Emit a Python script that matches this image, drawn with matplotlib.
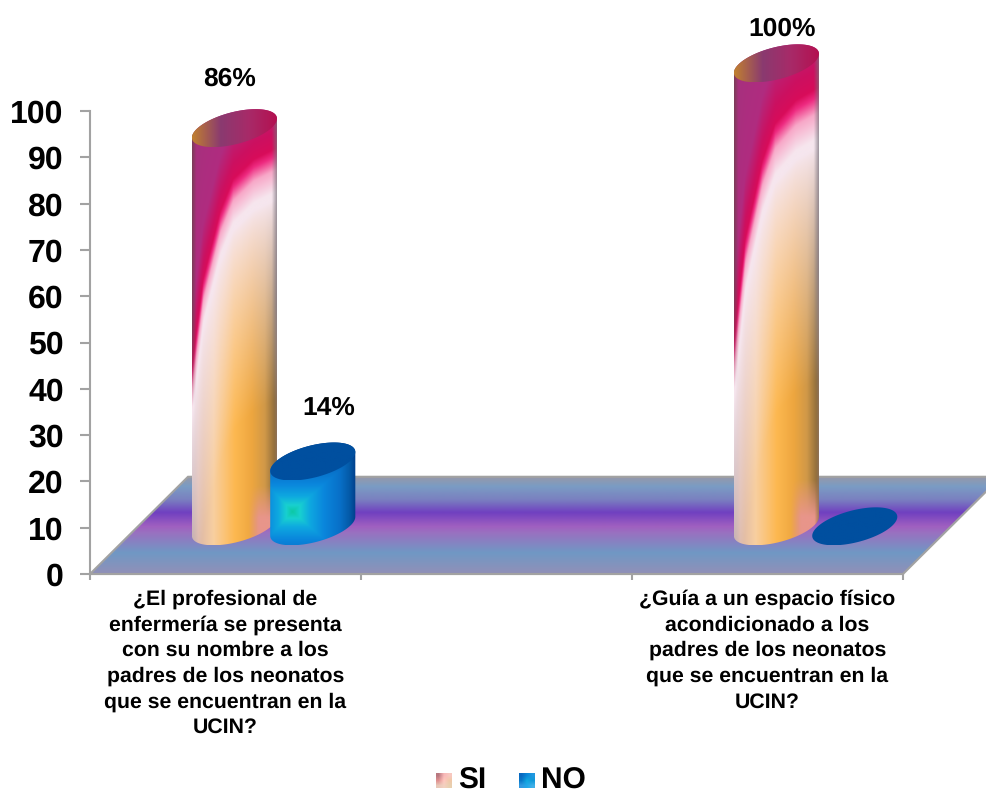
import numpy as np
import matplotlib
matplotlib.use("Agg")
import matplotlib.pyplot as plt
from matplotlib.colors import to_rgb
from matplotlib.patches import Polygon, PathPatch
from matplotlib.path import Path

plt.rcParams['font.family'] = ['Liberation Sans', 'DejaVu Sans']
plt.rcParams['font.weight'] = 'bold'
plt.rcParams['text.hinting'] = 'none'

questions = [
    "¿El profesional de\nenfermería se presenta\ncon su nombre a los\npadres de los neonatos\nque se encuentran en la\nUCIN?",
    "¿Guía a un espacio físico\nacondicionado a los\npadres de los neonatos\nque se encuentran en la\nUCIN?",
]
questionPos = [0, 2]
siValues = [86, 100]
noValues = [14, 0]
yTicks = list(range(0, 101, 10))

# Size of the 3D look, in axis units
FLOOR_DEPTH_X = 0.3616
FLOOR_DEPTH_Y = 21.0
BAR_RISE = 10.3
BAR_HW = 0.157
BAR_EH = 4.1
TILT = np.radians(30)
SI_SHIFT = 0.033
NO_SHIFT = 0.322
GREY = '#a2a2a2'


def ramp(x, stops, colors):
    # Piecewise colour gradient, returns an array shaped like x with 3 channels
    rgb = np.array([to_rgb(c) for c in colors])
    return np.stack([np.interp(x, stops, rgb[:, i]) for i in range(3)], axis=-1)


def mix(a, b, t):
    return a + (b - a) * t[..., None]


def ellipse(cx, cy, t):
    return np.column_stack([cx + BAR_HW * np.cos(t), cy + BAR_EH * np.sin(t + TILT)])


def bodyPath(cx, top):
    lower = ellipse(cx, BAR_RISE, np.linspace(np.pi, 2 * np.pi, 60))
    upper = ellipse(cx, top, np.linspace(0, np.pi, 60))
    return Path(np.vstack([lower, upper, lower[:1]]), closed=True)


def siColors(u, v):
    # Crimson sweep from the top that fades through white into orange
    edge = np.interp(u, [0, 0.13, 0.33, 0.48, 0.72, 1], [0.6, 0.38, 0.21, 0.13, 0.08, 0.05])
    d = v - edge
    upper = ramp(np.clip(-d, 0, 1), [0, 0.04, 0.14, 0.4],
                 ['#d80c5a', '#cc1060', '#b02c80', '#a8307e'])
    glow = ramp(d, [0, 0.02, 0.055, 0.11], ['#d80c5a', '#ee2a80', '#f8a8c8', '#f6e6ee'])
    lower = ramp(u, [0, 0.07, 0.25, 0.5, 0.7, 0.85, 0.96, 1],
                 ['#b09a98', '#dcb8a8', '#f8cfa0', '#fdb850', '#eda63f', '#d09848', '#94703c', '#8a7060'])
    blush = np.clip((v - 0.9) / 0.08, 0, 1) * np.clip((u - 0.66) / 0.12, 0, 1) * np.clip((1.0 - u) / 0.06, 0, 1)
    lower = mix(lower, ramp(u, [0, 1], ['#e8958a', '#e8958a']), blush)
    body = mix(glow, lower, np.clip((d - 0.13) / 0.5, 0, 1) ** 0.8)
    rgb = np.where((d < 0)[..., None], upper, body)
    rim = np.clip((u - 0.93) / 0.07, 0, 1) * np.clip((0.75 - v) / 0.3, 0, 1)
    rgb = mix(rgb, ramp(u, [0, 1], ['#77707a', '#77707a']), rim * 0.8)
    left = np.clip((0.05 - u) / 0.05, 0, 1) * np.clip((0.7 - v) / 0.2, 0, 1)
    return mix(rgb, ramp(u, [0, 1], ['#70404e', '#70404e']), left * 0.8)


def noColors(u, v):
    # Square glow around a teal spot low on the left of the barrel
    dx = u - 0.26
    dy = v - 0.78
    dist = np.maximum(np.where(dx < 0, -dx / 0.6, dx / 0.74), np.abs(dy) / 0.85)
    return ramp(dist, [0, 0.12, 0.28, 0.5, 0.75, 0.9, 1],
                ['#0cc8a4', '#18d0d0', '#0ea8e0', '#0a86dc', '#0870c8', '#045aa8', '#003f8c'])


def drawBar(ax, cx, value, colorFunc, capColors):
    top = BAR_RISE + value
    x0, x1 = cx - BAR_HW, cx + BAR_HW
    if value > 0:
        y0, y1 = BAR_RISE - BAR_EH, top + BAR_EH
        u, yy = np.meshgrid(np.linspace(0, 1, 170), np.linspace(y0, y1, 900))
        v = (top - yy) / value
        img = ax.imshow(colorFunc(u, v), extent=[x0, x1, y0, y1], origin='lower',
                        aspect='auto', interpolation='bilinear', zorder=3)
        clip = PathPatch(bodyPath(cx, top), transform=ax.transData, fc='none', ec='none')
        ax.add_patch(clip)
        img.set_clip_path(clip)
    # Elliptical cap on top of the barrel
    y0, y1 = top - BAR_EH, top + BAR_EH
    u = np.linspace(0, 1, 80)[None, :]
    cap = ax.imshow(ramp(u, [0, 1 / 3, 2 / 3, 1], capColors), extent=[x0, x1, y0, y1],
                    origin='lower', aspect='auto', interpolation='bilinear', zorder=3)
    outline = PathPatch(Path(ellipse(cx, top, np.linspace(0, 2 * np.pi, 120)), closed=True),
                        transform=ax.transData, fc='none', ec='none')
    ax.add_patch(outline)
    cap.set_clip_path(outline)


fig = plt.figure(figsize=(9.87, 7.95), dpi=100)
ax = fig.add_axes([0, 0, 1, 1])

# Floor of the chart
floorGrad = ramp(np.linspace(0, FLOOR_DEPTH_Y, 200)[:, None],
                 [0.2, 4.5, 8.9, 10.2, 13.2, 16, 18.8, 21],
                 ['#9090b8', '#7098c4', '#9a70c0', '#a060c0', '#7040c0', '#7a80c0', '#7a9cc4', '#9898a8'])
floorImg = ax.imshow(floorGrad, extent=[-0.5, 2.5 + FLOOR_DEPTH_X, 0, FLOOR_DEPTH_Y],
                     origin='lower', aspect='auto', interpolation='bilinear', zorder=1)
floor = Polygon([(-0.5, 0), (2.5, 0), (2.5 + FLOOR_DEPTH_X, FLOOR_DEPTH_Y), (-0.5 + FLOOR_DEPTH_X, FLOOR_DEPTH_Y)],
                closed=True, fc='none', ec=GREY, lw=1.5, zorder=2)
ax.add_patch(floor)
floorImg.set_clip_path(floor)

siCap = ['#c08030', '#8a3a70', '#a82a68', '#b41050']
noCap = ['#004f9f', '#004f9f', '#004f9f', '#004f9f']
for pos, si, no in zip(questionPos, siValues, noValues):
    drawBar(ax, pos + SI_SHIFT, si, siColors, siCap)
    drawBar(ax, pos + NO_SHIFT, no, noColors, noCap)

# Percent labels, nudged by hand above each barrel
ax.text(questionPos[0] + 0.016, siValues[0] + 21.0, f"{siValues[0]}%", ha='center', va='center', fontsize=19, zorder=5)
ax.text(questionPos[0] + 0.38, noValues[0] + 21.8, f"{noValues[0]}%", ha='center', va='center', fontsize=19, zorder=5)
ax.text(questionPos[1] + 0.055, siValues[1] + 17.7, f"{siValues[1]}%", ha='center', va='center', fontsize=19, zorder=5)

# Legend along the bottom
siSwatch = np.array([['#e8c8b8', '#f4d0c0', '#e8d0b0'], ['#e09090', '#ffc8c0', '#f0c8a8'], ['#b87880', '#f8b8b8', '#f8c8c0']])
noSwatch = np.array([['#3098e0', '#20a8e8', '#40b0e8'], ['#0878c8', '#10a8e0', '#1098d8'], ['#0868c0', '#0888d8', '#2098e0']])
for pic, x0 in [(siSwatch, 0.776), (noSwatch, 1.082)]:
    rgb = np.array([[to_rgb(c) for c in row] for row in pic])
    ax.imshow(rgb, extent=[x0, x0 + 0.056, -46.2, -43.0], origin='lower',
              aspect='auto', interpolation='bilinear', zorder=3)
ax.text(0.858, -46.3, "SI", ha='left', va='baseline', fontsize=21.5)
ax.text(1.163, -46.3, "NO", ha='left', va='baseline', fontsize=21.5)

# Axes placed so that 100 sits at the top of the wall and categories span the base
ax.set_xlim(-0.5 - 90 / 271, 2.5 + 84 / 271)
ax.set_ylim(-(795 - 574) / 4.63, 574 / 4.63)
ax.patch.set_visible(False)
for side in ['top', 'right']:
    ax.spines[side].set_visible(False)
ax.spines['left'].set_position(('data', -0.5))
ax.spines['left'].set_bounds(0, 100)
ax.spines['bottom'].set_position(('data', 0))
ax.spines['bottom'].set_bounds(-0.5, 2.5)
for side in ['left', 'bottom']:
    ax.spines[side].set_color(GREY)
    ax.spines[side].set_linewidth(1.5)
    ax.spines[side].set_zorder(2)

ax.set_yticks(yTicks)
ax.tick_params(axis='y', length=7, width=1.5, color=GREY, pad=12, labelsize=23)
ax.set_xticks([-0.5, 0.5, 1.5, 2.5], labels=[])
ax.tick_params(axis='x', which='major', length=4, width=1.5, color=GREY)
ax.set_xticks(questionPos, labels=questions, minor=True)
ax.tick_params(axis='x', which='minor', length=0, pad=11, labelsize=15.3)
for lab in ax.get_xticklabels(minor=True):
    lab.set_linespacing(1.4)

fig.savefig('out.png', dpi=100)
